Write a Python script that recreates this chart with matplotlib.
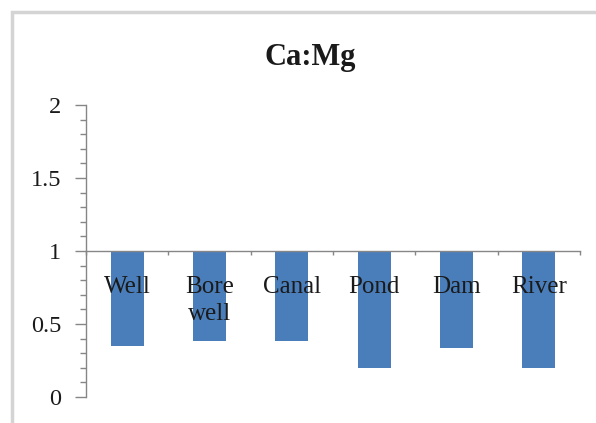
import matplotlib
matplotlib.use("Agg")
import matplotlib.pyplot as plt
from matplotlib.patches import Rectangle
from matplotlib.ticker import MultipleLocator, FixedLocator
import numpy as np

categories = ["Well", "Bore\nwell", "Canal", "Pond", "Dam", "River"]
ratios = [0.35, 0.385, 0.385, 0.20, 0.335, 0.20]
y_ticks = [0, 0.5, 1, 1.5, 2]
y_tick_labels = ["0", "0.5", "1", "1.5", "2"]
baseline = 1.0

plt.rcParams["font.family"] = ["Liberation Serif", "DejaVu Serif"]

fig = plt.figure(figsize=(5.96, 4.23), dpi=100)
fig.patch.set_facecolor("white")

# light frame along the left and top edges of the chart area
fig.patches.append(Rectangle((12 / 596, -0.5), 2.0, 1.5 - 12 / 423,
                             transform=fig.transFigure, fill=False,
                             edgecolor="#d4d4d4", linewidth=2.5))

ax = fig.add_axes([86 / 596, 26 / 423, (580 - 86) / 596, (397 - 105) / 423])

x = np.arange(len(categories))
heights = [v - baseline for v in ratios]
ax.bar(x, heights, bottom=baseline, width=0.4, color="#4a7ebb", zorder=1)

ax.set_xlim(-0.5, len(categories) - 0.5)
ax.set_ylim(0, 2)

# horizontal axis crosses at the baseline
ax.spines["bottom"].set_position(("data", baseline))
ax.spines["top"].set_visible(False)
ax.spines["right"].set_visible(False)
for s in ("bottom", "left"):
    ax.spines[s].set_color("#868686")
    ax.spines[s].set_linewidth(1.0)

ax.set_yticks(y_ticks)
ax.set_yticklabels(y_tick_labels)
ax.yaxis.set_minor_locator(MultipleLocator(0.1))
ax.tick_params(axis="y", which="major", length=8, width=1, color="#868686",
               labelsize=17.5, pad=10, labelcolor="#1a1a1a")
ax.tick_params(axis="y", which="minor", length=4, width=1, color="#868686")

ax.set_xticks(x)
ax.set_xticklabels(categories, linespacing=1.3)
ax.xaxis.set_minor_locator(FixedLocator(np.arange(-0.5, len(categories), 1.0)))
ax.tick_params(axis="x", which="major", length=0, labelsize=18, pad=18,
               labelcolor="#1a1a1a")
ax.tick_params(axis="x", which="minor", length=3, width=1, color="#868686")

fig.text(310 / 596, 1 - 57 / 423, "Ca:Mg", ha="center", va="center",
         fontsize=22, fontweight="bold", color="#1a1a1a")

fig.savefig("out.png", dpi=100, facecolor="white")
